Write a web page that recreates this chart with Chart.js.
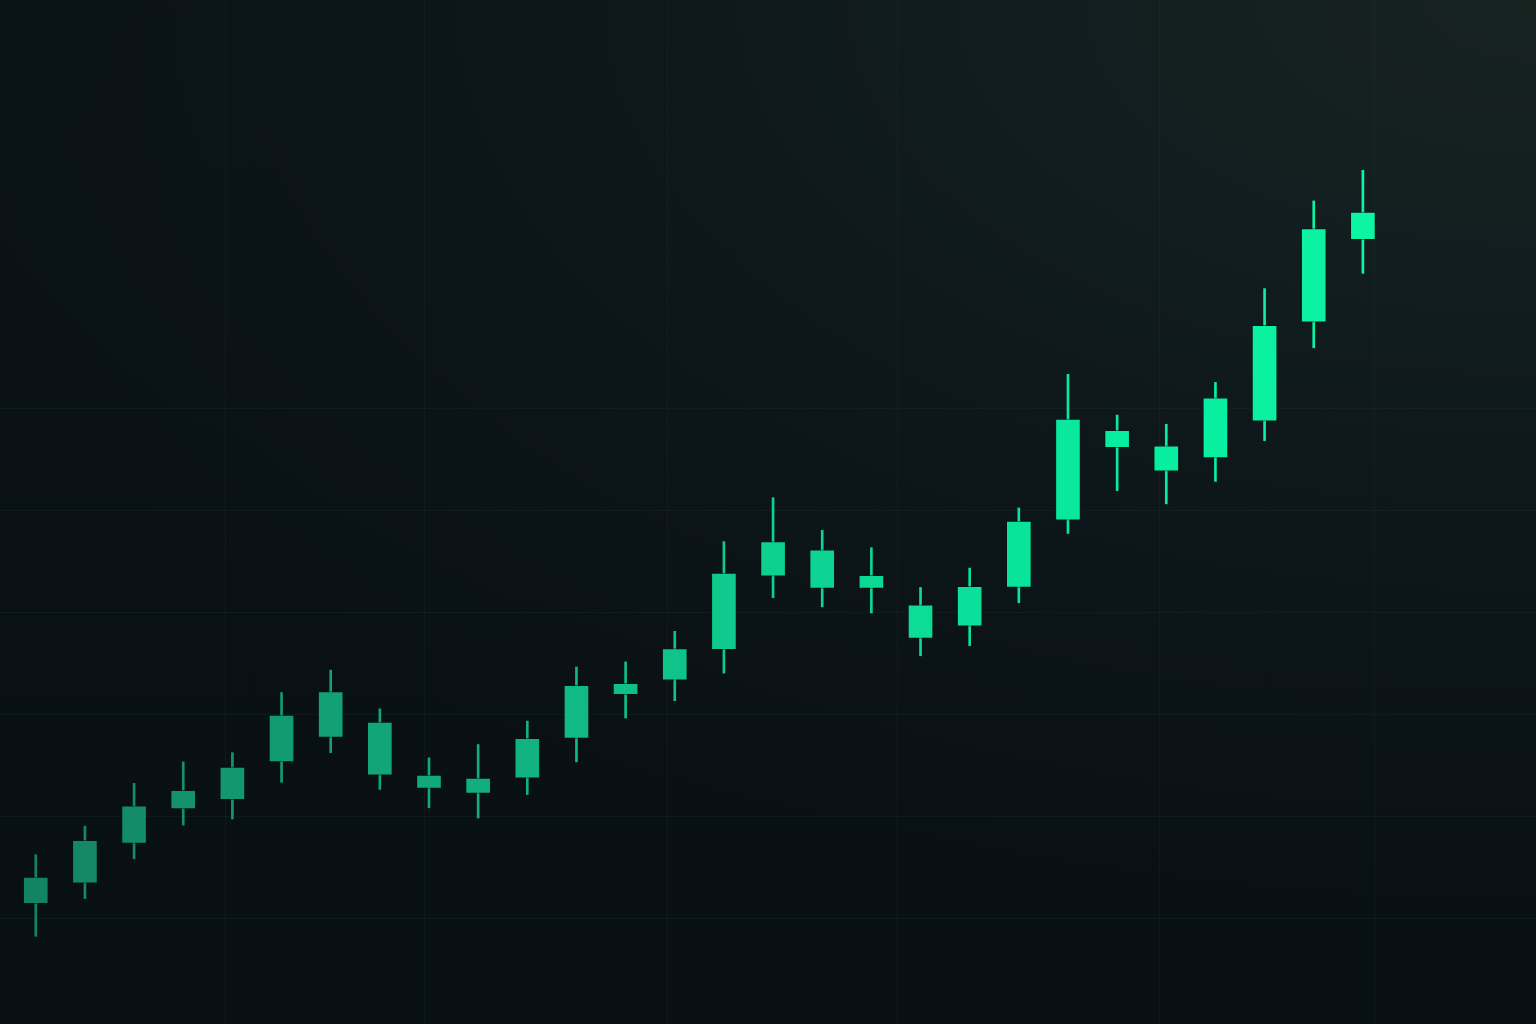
<!DOCTYPE html>
<html>
<head>
<meta charset="utf-8">
<script src="https://cdn.jsdelivr.net/npm/chart.js@4.4.1/dist/chart.umd.min.js"></script>
<style>
  html, body { margin: 0; padding: 0; }
  body {
    width: 1536px; height: 1024px; overflow: hidden;
    background:
      radial-gradient(ellipse 110% 90% at 100% 0%, #17231f 0%, #111c1f 35%, #0c1519 65%, rgba(9,16,19,0) 100%),
      linear-gradient(to bottom, #0a1215 0%, #091013 100%);
  }
  #wrap { position: absolute; left: 0; top: 0; width: 1536px; height: 1024px; }
</style>
</head>
<body>
<div id="wrap"><canvas id="c"></canvas></div>
<script>
// ---- data (28 sessions, all bullish) ----
const sessions = [1,2,3,4,5,6,7,8,9,10,11,12,13,14,15,16,17,18,19,20,21,22,23,24,25,26,27,28];
const openV  = [101.5,103.5,107.4,110.8,111.7,115.4,117.8,114.1,112.8,112.3,113.8,117.7,122.0,123.4,126.4,133.6,132.4,132.4,127.5,128.7,132.5,139.1,146.2,143.9,145.2,148.8,158.5,166.6];
const highV  = [106.3,109.1,113.3,115.4,116.3,122.2,124.4,120.6,115.8,117.1,119.4,124.7,125.2,128.2,137.0,141.3,138.1,136.4,132.5,134.4,140.3,153.4,149.4,148.5,152.6,161.8,170.4,173.4];
const lowV   = [98.3,102.0,105.9,109.2,109.8,113.4,116.3,112.7,110.9,109.9,112.2,115.4,119.7,121.4,124.1,131.5,130.6,130.0,125.8,126.8,131.0,137.8,142.0,140.7,142.9,146.9,156.0,163.3];
const closeV = [104.1,107.7,111.1,112.6,114.9,120.0,122.3,119.3,114.1,113.8,117.7,122.9,123.1,126.5,133.9,137.0,136.2,133.7,130.8,132.6,139.0,149.0,147.9,146.4,151.1,158.2,167.7,169.3];
const yGridTicks = [100,110,120,130,140,150];
const xGridTicks = [3.85,7.90,12.86,17.54,22.87,27.23];

// ---- styling helpers ----
const stops = [[0,[19,132,99]],[0.35,[18,176,126]],[0.55,[14,207,143]],[0.8,[7,235,159]],[1,[12,245,163]]];
function colorAt(t){
  for (let k=1;k<stops.length;k++){
    if (t<=stops[k][0]){
      const a=stops[k-1], b=stops[k];
      const f=(t-a[0])/(b[0]-a[0]);
      const c=a[1].map((v,j)=>Math.round(v+(b[1][j]-v)*f));
      return `rgb(${c[0]},${c[1]},${c[2]})`;
    }
  }
  const c=stops[stops.length-1][1]; return `rgb(${c[0]},${c[1]},${c[2]})`;
}
const n = sessions.length;
const col = ctx => colorAt(ctx.dataIndex/(n-1));

const bodies = sessions.map((s,i)=>({x:i, y:[openV[i], closeV[i]]}));
const wicks  = sessions.map((s,i)=>({x:i, y:[lowV[i], highV[i]]}));

new Chart(document.getElementById('c'), {
  type: 'bar',
  data: {
    datasets: [
      { label:'body', data: bodies, order: 0, barThickness: 25, backgroundColor: col,
        borderColor: 'rgba(5,20,18,0.55)', borderWidth: 1, borderSkipped: false, grouped: false },
      { label:'wick', data: wicks, order: 1, barThickness: 2, backgroundColor: col,
        borderWidth: 0, grouped: false }
    ]
  },
  options: {
    responsive: true,
    maintainAspectRatio: false,
    animation: false,
    layout: { padding: 0 },
    plugins: { legend: { display: false }, tooltip: { enabled: false } },
    scales: {
      x: {
        type: 'linear', min: -0.728, max: 30.522, offset: false,
        border: { display: false },
        ticks: { display: false, padding: 0 },
        grid: { offset: false, color: 'rgba(110,190,170,0.055)', lineWidth: 1, drawTicks: false, tickLength: 0 },
        afterBuildTicks: sc => { sc.ticks = xGridTicks.map(v=>({value:v})); }
      },
      y: {
        type: 'linear', min: 89.7, max: 190.1,
        border: { display: false },
        ticks: { display: false, padding: 0 },
        grid: { offset: false, color: 'rgba(110,190,170,0.055)', lineWidth: 1, drawTicks: false, tickLength: 0 },
        afterBuildTicks: sc => { sc.ticks = yGridTicks.map(v=>({value:v})); }
      }
    }
  }
});
</script>
</body>
</html>
